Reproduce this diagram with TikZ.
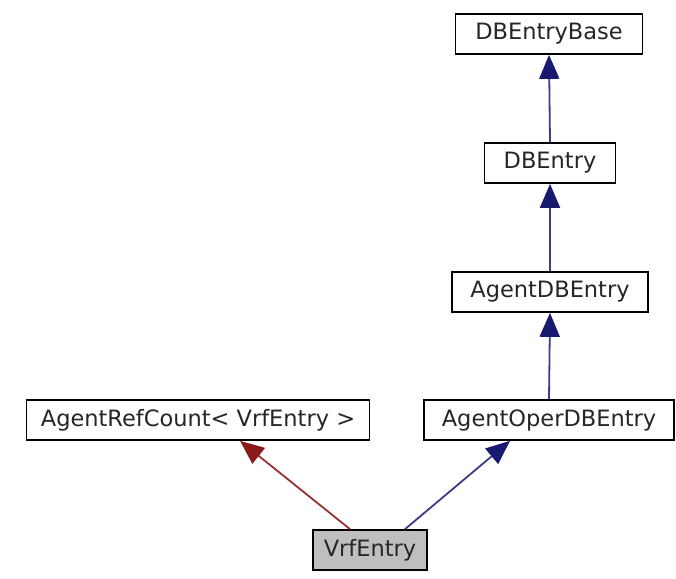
\documentclass[tikz,border=0pt]{standalone}
\usepackage{fontspec}
\setmainfont{DejaVu Sans}
\usetikzlibrary{arrows.meta}
\definecolor{edgeblue}{HTML}{191970}
\definecolor{edgered}{HTML}{8B1A1A}
\definecolor{leafgray}{HTML}{BFBFBF}
\tikzset{
  cls/.style={draw=black, line width=1.7pt, fill=white, minimum height=40pt,
    inner sep=0pt, font=\fontsize{22.5}{26}\selectfont, text=black!85},
  inherit/.style={draw=edgeblue!85!white, line width=1.8pt,
    -{Triangle[width=20pt,length=24pt,color=edgeblue,fill=edgeblue]}},
  usesref/.style={draw=edgered!90!white, line width=1.8pt,
    -{Triangle[width=20pt,length=24pt,color=edgered,fill=edgered]}},
}
\begin{document}
\begin{tikzpicture}[x=1pt,y=-1pt]
  \useasboundingbox (0,0) rectangle (676,578);
  \node[cls, minimum width=187pt] (base) at (549,34) {DBEntryBase};
  \node[cls, minimum width=131pt] (dbe) at (550,163) {DBEntry};
  \node[cls, minimum width=196pt] (adb) at (550,292) {AgentDBEntry};
  \node[cls, minimum width=343pt] (arc) at (198,420) {AgentRefCount< VrfEntry >};
  \node[cls, minimum width=250pt] (aod) at (549,420) {AgentOperDBEntry};
  \node[cls, minimum width=114pt, fill=leafgray] (vrf) at (370,550) {VrfEntry};

  \draw[inherit] (dbe.north) -- (base.south);
  \draw[inherit] (adb.north) -- (dbe.south);
  \draw[inherit] (aod.north) -- (adb.south);
  \draw[usesref] ([xshift=-20pt]vrf.north) -- ([xshift=42pt]arc.south);
  \draw[inherit] ([xshift=35pt]vrf.north) -- ([xshift=-39pt]aod.south);
\end{tikzpicture}
\end{document}
